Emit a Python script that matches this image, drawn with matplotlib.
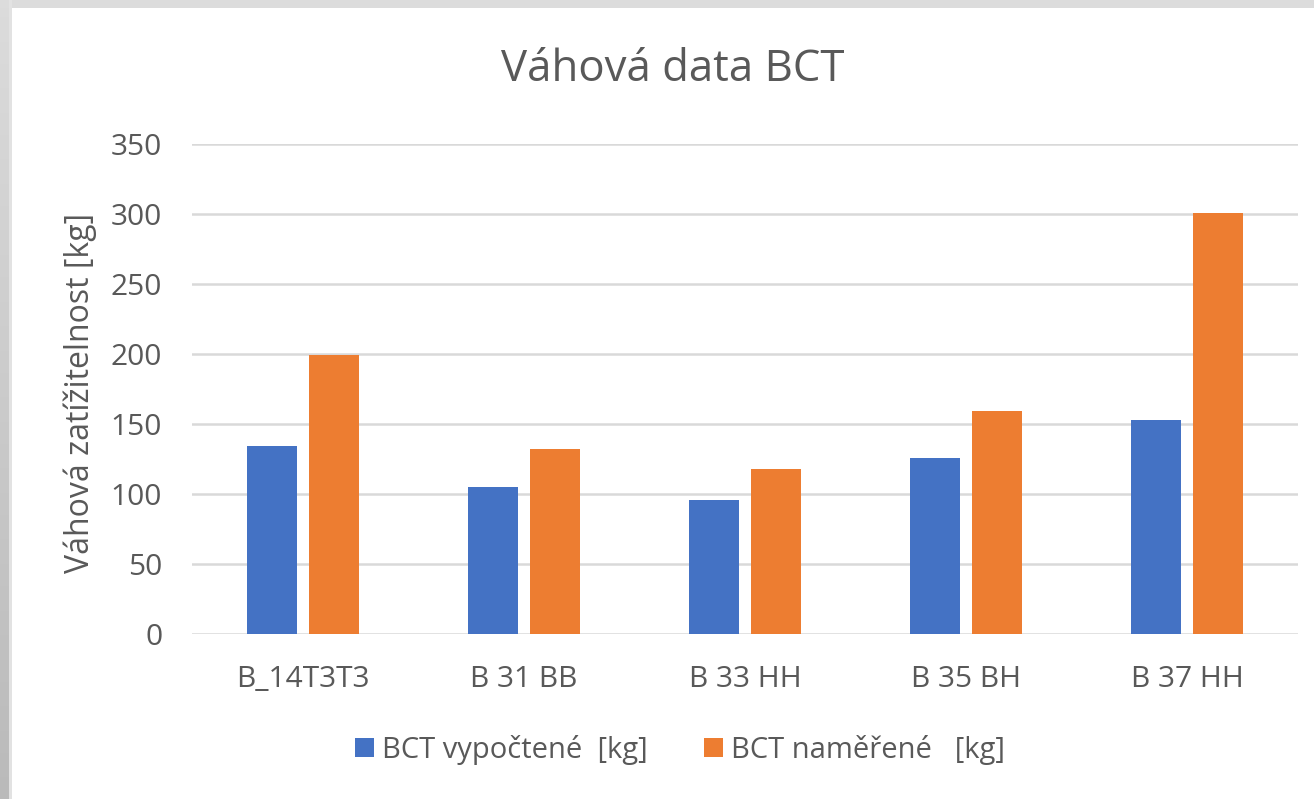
import matplotlib
matplotlib.use("Agg")
import matplotlib.pyplot as plt
import numpy as np
from matplotlib.patches import Rectangle

categories = ["B_14T3T3", "B 31 BB", "B 33 HH", "B 35 BH", "B 37 HH"]
vypoctene = [134, 105, 96, 126, 153]
namerene = [199, 132, 118, 159, 301]
series_names = ["BCT vypočtené  [kg]", "BCT naměřené   [kg]"]
yticks = [0, 50, 100, 150, 200, 250, 300, 350]

TXT = "#595959"
BLUE = "#4472C4"
ORANGE = "#ED7D31"
GRID = "#D9D9D9"

plt.rcParams['font.family'] = ['Open Sans', 'DejaVu Sans']

W, H = 1314, 799
fig = plt.figure(figsize=(W / 100, H / 100), dpi=100)
fig.patch.set_facecolor("white")

# screenshot border decoration
fig.patches.append(Rectangle((0, 1 - 8 / H), 1, 8 / H, transform=fig.transFigure,
                             facecolor="#DCDCDC", edgecolor="none", zorder=0))
bax = fig.add_axes([0, 0, 9 / W, 1 - 8 / H])
grad = np.linspace(0.86, 0.73, 256).reshape(-1, 1)
bax.imshow(np.dstack([grad, grad, grad]), aspect="auto", extent=[0, 1, 0, 1], origin="upper")
bax.axis("off")
fig.patches.append(Rectangle((9 / W, 0), 3 / W, 1, transform=fig.transFigure,
                             facecolor="#E2E2E2", edgecolor="none", zorder=0))

left, right, top, bottom = 192, 1298, 144, 634
ax = fig.add_axes([left / W, 1 - bottom / H, (right - left) / W, (bottom - top) / H])
x = np.arange(len(categories))
bw = 0.226
off = 0.140
ax.bar(x - off, vypoctene, bw, color=BLUE, label=series_names[0], zorder=3)
ax.bar(x + off, namerene, bw, color=ORANGE, label=series_names[1], zorder=3)

ax.set_xlim(-0.5, len(categories) - 0.5)
ax.set_ylim(0, 350)
ax.set_yticks(yticks)
ax.set_xticks(x)
ax.set_xticklabels(categories)
ax.yaxis.grid(True, color=GRID, linewidth=1.8, zorder=0)
ax.set_axisbelow(True)
for s in ax.spines.values():
    s.set_visible(False)
ax.tick_params(axis="both", length=0, colors=TXT, labelsize=21.5)
ax.tick_params(axis="y", pad=21.5)
ax.tick_params(axis="x", pad=22)

fig.text(673 / W, 1 - 70 / H, "Váhová data BCT", ha="center", va="center",
         fontsize=31.5, color=TXT)
fig.text(80 / W, 1 - 393 / H, "Váhová zatížitelnost [kg]", ha="center", va="center",
         rotation=90, fontsize=23, color=TXT)

leg = fig.legend(loc="center", bbox_to_anchor=(680 / W, 1 - 750 / H), ncol=2,
                 frameon=False, fontsize=21, labelcolor=TXT, handlelength=0.65,
                 handleheight=0.65, handletextpad=0.3, columnspacing=1.9)

fig.savefig("out.png", dpi=100, facecolor="white")
